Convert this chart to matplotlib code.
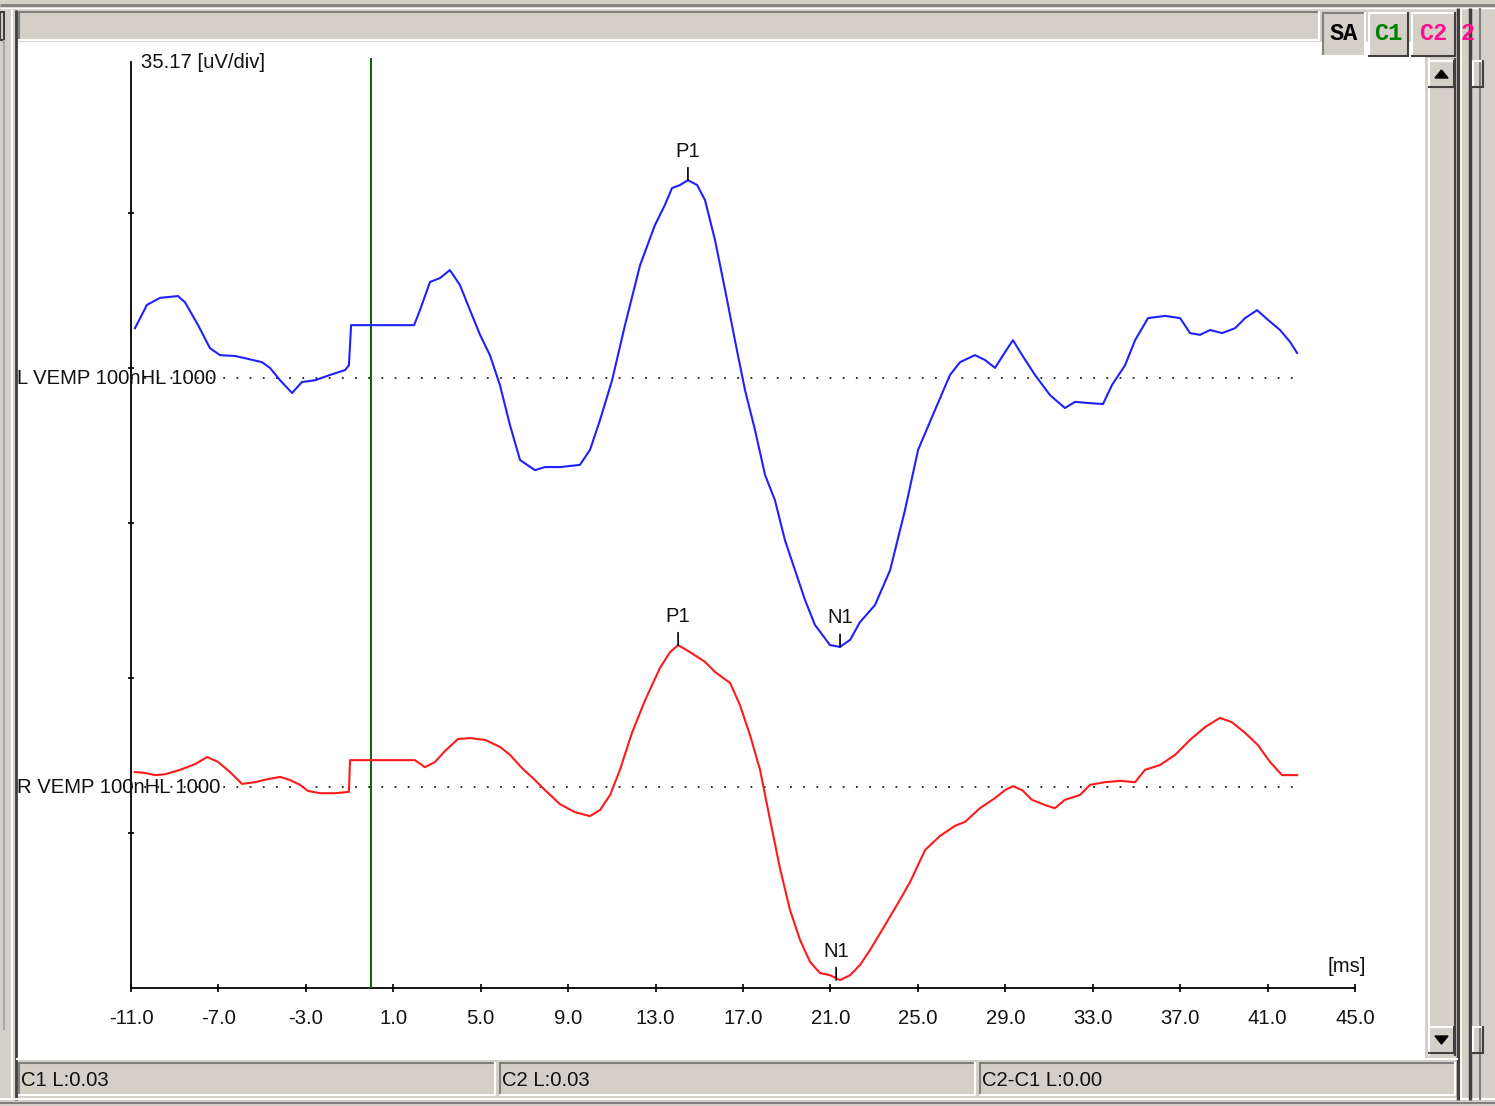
"""VEMP waveform viewer (L / R VEMP 100nHL 1000)"""

import matplotlib
matplotlib.use("Agg")
import matplotlib.pyplot as plt
from matplotlib.patches import Rectangle, Polygon
import numpy as np

plt.rcParams["font.family"] = ["Liberation Sans", "DejaVu Sans"]
plt.rcParams["axes.unicode_minus"] = False

# --- data -----------------------------------------------------------------
UV_PER_DIV = 35.17
X_MIN, X_MAX, X_STEP = -11.0, 45.0, 4.0

# left channel (blue), ms / uV relative to its baseline
l_time = [-10.82, -10.27, -9.67, -8.85, -8.53, -7.93, -7.39, -6.93, -6.24, -5.78,
          -5.01, -4.64, -4.18, -3.63, -3.18, -2.58, -1.90, -1.21, -1.03, -0.93,
          1.95, 2.22, 2.68, 3.14, 3.59, 4.05, 4.51, 4.97, 5.42, 5.88,
          6.34, 6.80, 7.48, 7.94, 8.63, 9.54, 10.00, 10.46, 11.01, 11.60,
          12.29, 12.97, 13.43, 13.75, 14.12, 14.48, 14.90, 15.26, 15.72, 16.18,
          16.63, 17.09, 17.55, 18.01, 18.46, 18.92, 19.38, 19.84, 20.29, 20.98,
          21.44, 21.90, 22.35, 23.04, 23.73, 24.41, 25.01, 25.78, 26.47, 26.93,
          27.61, 28.07, 28.53, 28.90, 29.35, 29.77, 30.36, 31.05, 31.73, 32.19,
          32.88, 33.47, 33.88, 34.48, 34.94, 35.53, 36.31, 37.00, 37.45, 37.91,
          38.37, 38.92, 39.51, 39.97, 40.52, 41.02, 41.57, 42.03, 42.35]
l_uv = [11.3, 16.6, 18.2, 18.6, 17.2, 12.0, 6.8, 5.2, 5.0, 4.5,
        3.6, 2.3, -0.5, -3.4, -0.9, -0.5, 0.7, 1.8, 2.9, 12.0,
        12.0, 15.4, 21.8, 22.7, 24.5, 21.1, 15.4, 9.8, 5.2, -1.6,
        -10.7, -18.6, -20.9, -20.2, -20.2, -19.7, -16.3, -9.5, -0.5, 12.0,
        25.6, 34.7, 39.3, 43.1, 43.8, 44.9, 43.8, 40.4, 31.3, 20.0,
        8.6, -2.7, -11.8, -22.0, -27.7, -36.8, -43.6, -50.4, -56.0, -60.6,
        -61.0, -59.4, -55.4, -51.5, -43.6, -30.0, -16.3, -7.3, 0.7, 3.6,
        5.2, 4.1, 2.3, 5.2, 8.6, 5.2, 0.7, -3.9, -6.8, -5.4,
        -5.7, -5.9, -1.6, 2.9, 8.6, 13.6, 14.1, 13.6, 10.2, 9.8,
        10.9, 10.2, 11.3, 13.6, 15.4, 13.2, 10.9, 8.2, 5.7]

# right channel (red)
r_time = [-10.82, -10.36, -9.90, -9.44, -8.76, -8.07, -7.52, -7.02, -6.47, -5.92,
          -5.33, -4.73, -4.18, -3.73, -3.27, -2.90, -2.35, -1.67, -1.03, -0.98,
          1.99, 2.45, 2.91, 3.37, 3.96, 4.51, 5.20, 5.88, 6.34, 6.89,
          7.48, 7.94, 8.63, 9.31, 10.00, 10.46, 10.92, 11.37, 11.92, 12.52,
          13.20, 13.66, 14.03, 14.58, 15.26, 15.72, 16.41, 16.86, 17.32, 17.78,
          18.24, 18.69, 19.15, 19.61, 20.07, 20.52, 20.98, 21.44, 21.90, 22.35,
          22.81, 23.50, 24.18, 24.64, 25.33, 26.01, 26.70, 27.16, 27.84, 28.53,
          28.99, 29.35, 29.77, 30.22, 30.82, 31.27, 31.73, 32.42, 32.88, 33.56,
          34.25, 34.94, 35.39, 36.08, 36.77, 37.45, 38.14, 38.82, 39.37, 39.97,
          40.56, 41.11, 41.66, 42.35]
r_uv = [3.4, 3.2, 2.7, 2.9, 3.9, 5.2, 6.8, 5.7, 3.4, 0.7,
        1.1, 1.8, 2.3, 1.6, 0.5, -0.9, -1.4, -1.4, -1.1, 6.1,
        6.1, 4.5, 5.7, 8.2, 10.9, 11.1, 10.7, 9.1, 7.3, 4.3,
        1.6, -0.7, -3.9, -5.7, -6.6, -5.2, -1.8, 3.9, 12.3, 19.7,
        27.0, 30.6, 32.2, 30.6, 28.4, 26.1, 23.6, 18.6, 11.8, 3.9,
        -7.5, -18.4, -27.9, -34.7, -39.7, -42.2, -42.7, -43.8, -42.7, -40.4,
        -37.0, -31.3, -25.6, -21.6, -14.3, -11.1, -8.8, -7.9, -4.8, -2.5,
        -0.7, 0.2, -0.7, -2.9, -4.1, -4.8, -2.9, -1.8, 0.5, 1.1,
        1.4, 1.1, 3.9, 5.0, 7.3, 10.7, 13.6, 15.7, 14.7, 12.3,
        9.5, 5.7, 2.7, 2.7]

channel_names = ["L VEMP 100nHL 1000", "R VEMP 100nHL 1000"]
channel_offsets = [138.4, 45.6]   # baseline position on the uV scale
channel_colors = ["#2020ff", "#ff1a1a"]

peak_names = ["P1", "N1"]
l_peak_times = [14.48, 21.44]
l_peak_uv = [44.9, -61.0]
r_peak_times = [14.03, 21.26]
r_peak_uv = [32.2, -43.8]

stim_time = 0.0
status_texts = ["C1 L:0.03", "C2 L:0.03", "C2-C1 L:0.00"]

# --- window chrome (pixel coords) -----------------------------------------
W, H = 1495, 1106
GRAY = "#d4d0c8"
DARK = "#808080"
DARKER = "#404040"
FS = 14.6

fig = plt.figure(figsize=(W / 100, H / 100), dpi=100, facecolor=GRAY)
bg = fig.add_axes([0, 0, 1, 1])
bg.set_xlim(0, W)
bg.set_ylim(H, 0)
bg.axis("off")
bg.set_zorder(0)


def hline(y, x0, x1, color, lw=1.0):
    bg.plot([x0, x1], [y, y], color=color, lw=lw, solid_capstyle="butt")


def vline(x, y0, y1, color, lw=1.0):
    bg.plot([x, x], [y0, y1], color=color, lw=lw, solid_capstyle="butt")


def box(x0, y0, x1, y1, raised=True, fill=GRAY):
    bg.add_patch(Rectangle((x0, y0), x1 - x0, y1 - y0, facecolor=fill, edgecolor="none"))
    hi, lo = ("white", DARKER) if raised else (DARK, "white")
    hline(y0 + 1, x0, x1, hi, 1.5)
    vline(x0 + 1, y0, y1, hi, 1.5)
    hline(y1 - 1, x0, x1, lo, 1.5)
    vline(x1 - 1, y0, y1, lo, 1.5)


# outer frame lines
hline(5, 0, W, DARK, 2)
hline(8, 0, W, "white", 1)
vline(4, 40, 1030, "#a8a8a8", 1.5)
vline(12, 10, 1100, "white", 1.5)
vline(16, 10, 1100, DARKER, 2)
hline(1099, 0, W, "white", 1.5)
hline(1103, 0, W, DARK, 1.5)
bg.add_patch(Rectangle((0, 12), 4, 28, facecolor=GRAY, edgecolor=DARKER, lw=1.5))

# top bar
box(18, 11, 1320, 41, raised=False)

# white plotting panel
bg.add_patch(Rectangle((18, 42), 1407, 1016, facecolor="white", edgecolor="none"))

# channel buttons
box(1322, 12, 1366, 57, raised=False)
box(1368, 12, 1409, 57, raised=True)
box(1411, 12, 1456, 57, raised=True)
for x, label, color in [(1344, "SA", "black"), (1388, "C1", "#008000"), (1433, "C2", "#ff0f8f")]:
    bg.text(x, 34, label, ha="center", va="center", fontsize=17, fontweight="bold",
            color=color, family=["Liberation Mono", "DejaVu Sans Mono"])
bg.text(1468, 34, "2", ha="center", va="center", fontsize=17, fontweight="bold",
        color="#ff0f8f", family=["Liberation Mono", "DejaVu Sans Mono"])

# scroll bars
bg.add_patch(Rectangle((1428, 58), 28, 998, facecolor=GRAY, edgecolor="none"))
vline(1429, 58, 1056, "white", 1.5)
vline(1455, 58, 1056, DARKER, 1.5)
box(1428, 60, 1455, 88, raised=True)
box(1428, 1026, 1455, 1054, raised=True)
bg.add_patch(Polygon([[1435, 78], [1448, 78], [1441.5, 70]], color="black"))
bg.add_patch(Polygon([[1435, 1036], [1448, 1036], [1441.5, 1044]], color="black"))
vline(1458, 8, 1100, DARKER, 2.5)
vline(1461, 8, 1100, "white", 1.2)
vline(1470, 8, 1100, DARKER, 2.5)
vline(1480, 8, 1100, DARK, 1.5)
box(1472, 60, 1484, 88, raised=True)
box(1472, 1026, 1484, 1054, raised=True)

# status bar
hline(1059, 16, 1458, "white", 1.5)
panes = [(18, 496), (499, 976), (979, 1456)]
for (x0, x1), txt in zip(panes, status_texts):
    box(x0, 1062, x1, 1096, raised=False)
    bg.text(x0 + 3, 1080, txt, ha="left", va="center", fontsize=FS, color="#111111")

# --- waveform axes --------------------------------------------------------
ax_left, ax_right, ax_bottom, ax_top = 131, 1355, 988, 58
ax = fig.add_axes([ax_left / W, 1 - ax_bottom / H,
                   (ax_right - ax_left) / W, (ax_bottom - ax_top) / H])
ax.set_zorder(2)
ax.patch.set_visible(False)
ax.set_xlim(X_MIN, X_MAX)
ax.set_ylim(0, 6 * UV_PER_DIV)

for s in ["top", "right"]:
    ax.spines[s].set_visible(False)
ax.spines["left"].set_bounds(0, 6 * UV_PER_DIV - 0.9)
ax.spines["left"].set_linewidth(1.3)
ax.spines["bottom"].set_linewidth(1.3)

ax.set_xticks(np.arange(X_MIN, X_MAX + 0.1, X_STEP))
ax.set_xticklabels([f"{v:.1f}" for v in np.arange(X_MIN, X_MAX + 0.1, X_STEP)])
ax.set_yticks([UV_PER_DIV * k for k in range(1, 6)])
ax.set_yticklabels([])
ax.tick_params(axis="x", direction="inout", length=6, width=1.2, pad=12,
               labelsize=FS, labelcolor="#111111")
ax.tick_params(axis="y", direction="inout", length=5, width=1.2)

ax.axvline(stim_time, color="#006400", lw=1.4, zorder=3)

traces = [(l_time, l_uv, l_peak_times, l_peak_uv), (r_time, r_uv, r_peak_times, r_peak_uv)]
for (t, uv, pt, pv), name, off, color in zip(traces, channel_names, channel_offsets, channel_colors):
    ax.plot([X_MIN, 42.3], [off, off], color="#222222", lw=1.3,
            linestyle=(0, (1, 6.3)), zorder=2)
    ax.text(-16.2, off, name, ha="left", va="center", fontsize=FS, color="#111111",
            clip_on=False, zorder=4)
    ax.plot(t, np.array(uv) + off, color=color, lw=1.5, zorder=4, clip_on=False)
    for tp, vp, pname in zip(pt, pv, peak_names):
        ax.annotate(pname, xy=(tp, vp + off), xytext=(0, 14), textcoords="offset points",
                    ha="center", va="bottom", fontsize=FS, color="#111111",
                    arrowprops=dict(arrowstyle="-", color="black", lw=1.2,
                                    shrinkA=3, shrinkB=0), zorder=5)

ax.text(10 / 1224, 1 - 4 / 930, f"{UV_PER_DIV:.2f} [uV/div]", transform=ax.transAxes,
        ha="left", va="center", fontsize=FS, color="#111111")
ax.text(0.9935, 0.0226, "[ms]", transform=ax.transAxes, ha="center", va="center",
        fontsize=FS, color="#111111")

fig.savefig("out.png", dpi=100, facecolor=GRAY)
